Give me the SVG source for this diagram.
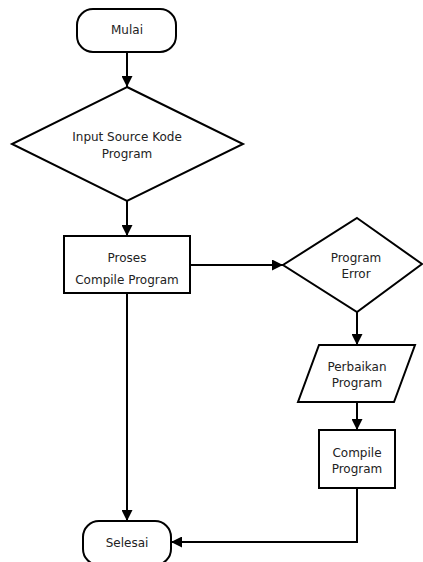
<svg xmlns="http://www.w3.org/2000/svg" width="423" height="562" viewBox="0 0 423 562">
<style>
.s{fill:#fff;stroke:#000;stroke-width:2}
.t{font-family:"DejaVu Sans",Verdana,sans-serif;font-size:12px;fill:#222;text-anchor:middle}
.c{fill:none;stroke:#000;stroke-width:2}
</style>
<defs>
<marker id="ah" markerUnits="userSpaceOnUse" markerWidth="11" markerHeight="11" refX="10" refY="5" orient="auto" viewBox="0 0 10 10">
<path d="M0,0 L10,5 L0,10 z" fill="#000"/>
</marker>
</defs>
<rect width="423" height="562" fill="#fff"/>
<g id="connectors">
<path class="c" d="M127,52 V87" marker-end="url(#ah)"/>
<path class="c" d="M127,201 V236" marker-end="url(#ah)"/>
<path class="c" d="M190,265 H283" marker-end="url(#ah)"/>
<path class="c" d="M357,312 V345" marker-end="url(#ah)"/>
<path class="c" d="M357,402 V430" marker-end="url(#ah)"/>
<path class="c" d="M357,488 V542 H171" marker-end="url(#ah)"/>
<path class="c" d="M127,293 V521" marker-end="url(#ah)"/>
</g>
<g id="mulai">
<rect class="s" x="77" y="9" width="99" height="43" rx="16"/>
<text class="t" x="127" y="34">Mulai</text>
</g>
<g id="input">
<polygon class="s" points="127,87 243,144 127,201 12,144"/>
<text class="t" x="127" y="141">Input Source Kode</text>
<text class="t" x="127" y="158">Program</text>
</g>
<g id="proses">
<rect class="s" x="64" y="236" width="126" height="57"/>
<text class="t" x="127" y="262">Proses</text>
<text class="t" x="127" y="284">Compile Program</text>
</g>
<g id="error">
<polygon class="s" points="357,218 422,264 357,312 283,265"/>
<text class="t" x="356" y="262">Program</text>
<text class="t" x="356" y="278">Error</text>
</g>
<g id="perbaikan">
<polygon class="s" points="319,345 415,345 394,402 298,402"/>
<text class="t" x="357" y="371">Perbaikan</text>
<text class="t" x="357" y="387">Program</text>
</g>
<g id="compile">
<rect class="s" x="319" y="430" width="76" height="58"/>
<text class="t" x="357" y="457">Compile</text>
<text class="t" x="357" y="473">Program</text>
</g>
<g id="selesai">
<rect class="s" x="83" y="521" width="88" height="44" rx="16"/>
<text class="t" x="127" y="547">Selesai</text>
</g>
</svg>
